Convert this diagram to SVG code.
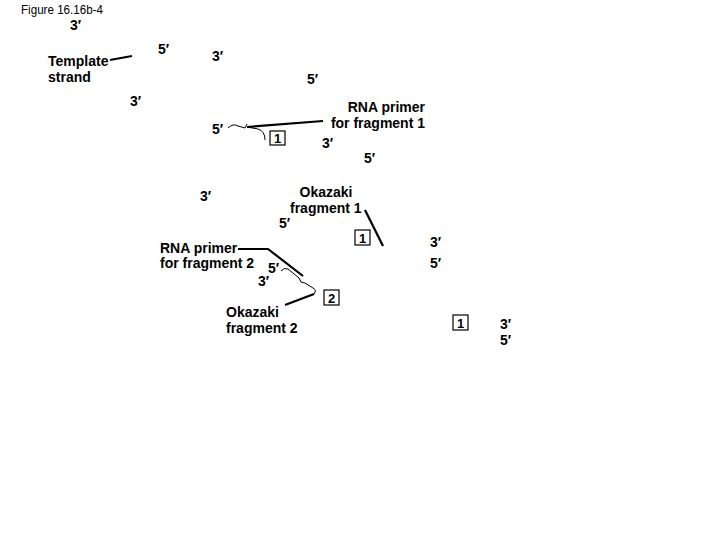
<svg xmlns="http://www.w3.org/2000/svg" width="720" height="540" viewBox="0 0 720 540">
<style>
  .lbl { font-family: "Liberation Sans", Arial, sans-serif; font-size: 14px; font-weight: bold; fill: #000; }
  .title { font-family: "Liberation Sans", Arial, sans-serif; font-size: 12px; fill: #000; }
  .thick { fill: none; stroke: #000; stroke-width: 2.2; }
  .thin { fill: none; stroke: #000; stroke-width: 1; }
  .box { fill: #fff; stroke: #000; stroke-width: 1.2; }
  .num { font-family: "Liberation Sans", Arial, sans-serif; font-size: 13px; font-weight: bold; fill: #000; text-anchor: middle; }
</style>
<rect width="720" height="540" fill="#fff"/>
<text class="title" x="21" y="14" textLength="82" lengthAdjust="spacingAndGlyphs">Figure 16.16b-4</text>

<g id="connectors">
  <line class="thick" x1="110" y1="60" x2="132" y2="56"/>
  <line class="thick" x1="247" y1="127" x2="323" y2="121"/>
  <path class="thin" d="M228,128 Q233,123 238,126 L245,128 L247,124 M247,127 L258,129 Q265,131 265,140"/>
  <line class="thick" x1="365" y1="210" x2="383" y2="246"/>
  <polyline class="thick" points="238,249 268,249 303,276"/>
  <path class="thin" d="M281,271 Q284,267 288,269 L299,278 L301,282 L305,283 L313,288 Q317,290 314,294"/>
  <line class="thick" x1="285" y1="305" x2="314" y2="294"/>
</g>

<g id="top-labels">
  <text class="lbl" x="70" y="30">3′</text>
  <text class="lbl" x="158" y="54">5′</text>
  <text class="lbl" x="212" y="61">3′</text>
  <text class="lbl" x="307" y="84">5′</text>
  <text class="lbl" x="130" y="106">3′</text>
</g>

<g id="template-strand">
  <text class="lbl" x="48" y="66">Template</text>
  <text class="lbl" x="48" y="82">strand</text>
</g>

<g id="rna-primer-1">
  <text class="lbl" x="425" y="112" text-anchor="end">RNA primer</text>
  <text class="lbl" x="425" y="128" text-anchor="end">for fragment 1</text>
</g>

<g id="step1-a">
  <text class="lbl" x="212" y="134">5′</text>
  <rect class="box" x="270" y="131" width="15" height="14"/>
  <text class="num" x="277.5" y="143">1</text>
  <text class="lbl" x="322" y="148">3′</text>
  <text class="lbl" x="364" y="163">5′</text>
</g>

<g id="okazaki-1">
  <text class="lbl" x="200" y="201">3′</text>
  <text class="lbl" x="326" y="197" text-anchor="middle">Okazaki</text>
  <text class="lbl" x="290" y="213">fragment 1</text>
  <text class="lbl" x="279" y="228">5′</text>
  <rect class="box" x="355" y="230" width="15" height="15"/>
  <text class="num" x="362.5" y="242.5">1</text>
</g>

<g id="rna-primer-2">
  <text class="lbl" x="160" y="253">RNA primer</text>
  <text class="lbl" x="160" y="268">for fragment 2</text>
  <text class="lbl" x="268" y="273">5′</text>
  <text class="lbl" x="258" y="286">3′</text>
  <rect class="box" x="324" y="290" width="15" height="15"/>
  <text class="num" x="331.5" y="302.5">2</text>
</g>

<g id="okazaki-2">
  <text class="lbl" x="226" y="317">Okazaki</text>
  <text class="lbl" x="226" y="333">fragment 2</text>
</g>

<g id="ends-1">
  <text class="lbl" x="430" y="247">3′</text>
  <text class="lbl" x="430" y="268">5′</text>
</g>

<g id="step1-c">
  <rect class="box" x="453" y="315" width="15" height="15"/>
  <text class="num" x="460.5" y="327.5">1</text>
  <text class="lbl" x="500" y="329">3′</text>
  <text class="lbl" x="500" y="345">5′</text>
</g>
</svg>
